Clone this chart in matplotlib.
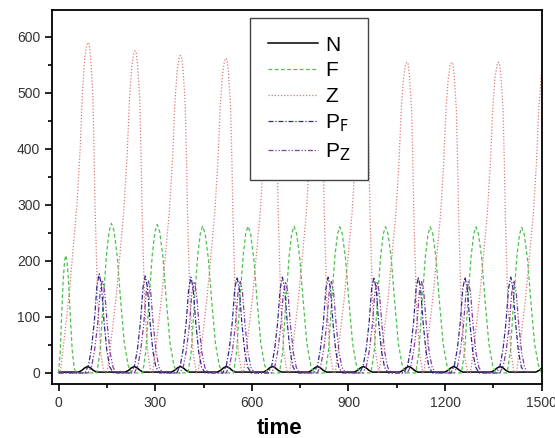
import numpy as np
import matplotlib
matplotlib.use("Agg")
import matplotlib.pyplot as plt
from matplotlib.ticker import MultipleLocator

plt.rcParams['font.family'] = ['Liberation Sans', 'DejaVu Sans']

# peak times / heights
z_times = [93, 239, 380, 521, 662, 805, 947, 1083, 1222, 1367, 1510]
z_heights = [590, 575, 567, 562, 560, 558, 557, 555, 555, 555, 555]
f_times = [22, 164, 306, 447, 588, 731, 873, 1015, 1154, 1296, 1438]
f_heights = [210, 267, 265, 262, 262, 262, 261, 261, 261, 261, 260]
f_scales = [0.5, 1, 1, 1, 1, 1, 1, 1, 1, 1, 1]
pf_times = [126, 269, 411, 554, 695, 837, 979, 1117, 1262, 1404]
pf_heights = [177, 173, 171, 171, 171, 171, 171, 171, 171, 171]
pz_times = [136, 279, 421, 564, 705, 847, 989, 1127, 1272, 1414]
pz_heights = [166, 164, 163, 163, 163, 163, 163, 163, 163, 163]
n_times = [90, 235, 378, 521, 664, 804, 946, 1087, 1227, 1371, 1510]
n_heights = [10, 10, 10, 10, 10, 10, 10, 10, 10, 10, 10]

# single-peak shapes (offset from peak, fraction of peak height)
z_off = [-88, -76, -60, -36, -26, -19, -12, -6, -2, 2, 6, 13, 17, 20, 28, 38, 48]
z_frac = [0.0, 0.1, 0.24, 0.51, 0.68, 0.85, 0.95, 0.99, 1.0, 0.995, 0.96, 0.85,
          0.68, 0.51, 0.22, 0.06, 0.0]
f_off = [-45, -35, -25, -15, -7, 0, 8, 18, 28, 40, 52, 62]
f_frac = [0.0, 0.15, 0.5, 0.8, 0.95, 1.0, 0.95, 0.78, 0.5, 0.2, 0.05, 0.0]
p_off = [-44, -33, -24, -15, -7, 0, 7, 15, 24, 33, 44]
p_frac = [0.0, 0.08, 0.25, 0.52, 0.88, 1.0, 0.88, 0.52, 0.22, 0.06, 0.0]
n_off = [-28, -18, -9, 0, 9, 18, 28]
n_frac = [0.0, 0.3, 0.75, 1.0, 0.75, 0.3, 0.0]


def build(times, heights, off, frac, scales=None, base=0.0):
    t, y = [0], [base]
    for i, (tp, h) in enumerate(zip(times, heights)):
        s = scales[i] if scales else 1
        t += [tp + o * s for o in off]
        y += [base + h * f for f in frac]
    return np.array(t), np.array(y)


fig = plt.figure(figsize=(5.55, 4.38), dpi=100)
ax = fig.add_axes([0.094, 0.123, 0.882, 0.854])

t, y = build(n_times, n_heights, n_off, n_frac, base=1.5)
ax.plot(t, y, color='black', lw=1.1, label='N')
t, y = build(f_times, f_heights, f_off, f_frac, f_scales)
ax.plot(t[1:], y[1:], color='#4cc24c', lw=0.9, ls=(0, (3, 2)), label='F')
t, y = build(z_times, z_heights, z_off, z_frac)
ax.plot(t, y, color='#dc7a7a', lw=0.9, ls=(0, (1, 1.5)), label='Z')
t, y = build(pf_times, pf_heights, p_off, p_frac)
ax.plot(t, y, color='#2e2a8c', lw=0.9, ls=(0, (4, 1.5, 1, 1.5)),
        label='P$_{\\mathsf{F}}$')
t, y = build(pz_times, pz_heights, p_off, p_frac)
ax.plot(t, y, color='#8a3aa0', lw=0.9, ls=(0, (4, 1.5, 1, 1.5, 1, 1.5)),
        label='P$_{\\mathsf{Z}}$')

ax.set_xlim(-20, 1500)
ax.set_ylim(-20, 648)
ax.xaxis.set_major_locator(MultipleLocator(300))
ax.xaxis.set_minor_locator(MultipleLocator(150))
ax.yaxis.set_major_locator(MultipleLocator(100))
ax.yaxis.set_minor_locator(MultipleLocator(50))
ax.tick_params(which='major', direction='out', length=5, width=1.2,
               labelsize=10, labelcolor='#333333')
ax.tick_params(which='minor', direction='out', length=3, width=1.2)
for sp in ax.spines.values():
    sp.set_linewidth(1.3)
ax.set_xlabel('time', fontsize=16, fontweight='bold')
ax.xaxis.set_label_coords(0.465, -0.09)

leg = ax.legend(loc='upper left', bbox_to_anchor=(0.404, 0.979), fontsize=15,
                handlelength=2.4, handletextpad=0.35, labelspacing=0.32,
                borderpad=0.85, borderaxespad=0, fancybox=False,
                edgecolor='#444444', framealpha=1)
leg.get_frame().set_linewidth(1.0)

fig.savefig('out.png', dpi=100)
